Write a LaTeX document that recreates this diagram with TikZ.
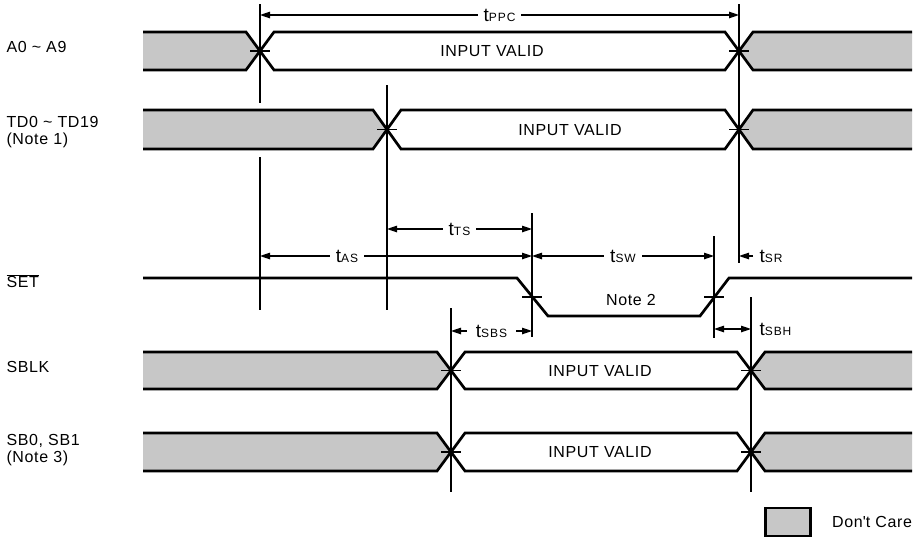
\documentclass[tikz,border=0pt]{standalone}
\usepackage{fontspec}
\setmainfont{Liberation Sans}[LetterSpace=4]
\usetikzlibrary{arrows.meta,positioning}

% time label: t with small capital subscript letters
\newcommand{\tsub}[1]{{\fontsize{19}{19}\selectfont t}{\fontsize{12}{12}\selectfont\addfontfeature{LetterSpace=8}#1}}

\tikzset{
  sig/.style={line width=2.7pt},
  guide/.style={line width=1.2pt},
  dontcare/.style={fill=black!22},
  dim/.style={line width=1.2pt, {Triangle[length=10pt,width=6.5pt]}-{Triangle[length=10pt,width=6.5pt]}},
  dimlbl/.style={fill=white, inner xsep=6pt, inner ysep=1pt},
  signame/.style={anchor=west, align=left},
}

\begin{document}
\begin{tikzpicture}[x=1pt, y=-1pt, font=\fontsize{16}{17}\selectfont]
        \useasboundingbox (0,0) rectangle (918,539);
        
        % Signal names
        \node[signame] (nameA) at (3,47) {A0 \textasciitilde{} A9};
        \node[signame] (nameTD) at (3,132) {TD0 \textasciitilde{} TD19\\(Note 1)};
        \node[signame] (nameSET) at (3,281) {$\overline{\mbox{SET}}$};
        \node[signame] (nameSBLK) at (3,367) {SBLK};
        \node[signame] (nameSB) at (3,450) {SB0, SB1\\(Note 3)};
        
        % Don't care areas
        \fill[dontcare] (143,32) -- (246,32) -- (260,51) -- (246,70) -- (143,70) -- cycle;
        \fill[dontcare] (912,32) -- (753,32) -- (739,51) -- (753,70) -- (912,70) -- cycle;
        \fill[dontcare] (143,110) -- (373,110) -- (387,129.5) -- (373,149) -- (143,149) -- cycle;
        \fill[dontcare] (912,110) -- (753,110) -- (739,129.5) -- (753,149) -- (912,149) -- cycle;
        \fill[dontcare] (143,352) -- (437,352) -- (451,370.5) -- (437,389) -- (143,389) -- cycle;
        \fill[dontcare] (912,352) -- (765,352) -- (751,370.5) -- (765,389) -- (912,389) -- cycle;
        \fill[dontcare] (143,433) -- (437,433) -- (451,452) -- (437,471) -- (143,471) -- cycle;
        \fill[dontcare] (912,433) -- (765,433) -- (751,452) -- (765,471) -- (912,471) -- cycle;
        
        % Reference lines
        \draw[guide] (260,4) -- (260,103) (260,157) -- (260,310);
        \draw[guide] (387,85) -- (387,310);
        \draw[guide] (739,4) -- (739,263);
        \draw[guide] (532,213) -- (532,337);
        \draw[guide] (714,236) -- (714,338);
        \draw[guide] (451,308) -- (451,492);
        \draw[guide] (751,297) -- (751,492);
        
        % Crossing ticks
        \draw[guide] (250,51) -- (270,51) (729,51) -- (749,51)
            (377,129.5) -- (397,129.5) (729,129.5) -- (749,129.5)
            (522,297) -- (542,297) (704,297) -- (724,297)
            (441,370.5) -- (461,370.5) (741,370.5) -- (761,370.5)
            (441,452) -- (461,452) (741,452) -- (761,452);
        
        % A0 ~ A9
        \draw[sig] (143,32) -- (246,32) -- (274,70) -- (725,70) -- (753,32) -- (912,32);
        \draw[sig] (143,70) -- (246,70) -- (274,32) -- (725,32) -- (753,70) -- (912,70);
        \node (validA) at (492,51) {INPUT VALID};
        
        % TD0 ~ TD19
        \draw[sig] (143,110) -- (373,110) -- (401,149) -- (725,149) -- (753,110) -- (912,110);
        \draw[sig] (143,149) -- (373,149) -- (401,110) -- (725,110) -- (753,149) -- (912,149);
        \node (validTD) at (570,130) {INPUT VALID};
        
        % SET
        \draw[sig] (143,278) -- (517,278) -- (548,316) -- (700,316) -- (729,278) -- (912,278);
        \node (note2) at (631,300) {Note 2};
        
        % SBLK
        \draw[sig] (143,352) -- (437,352) -- (465,389) -- (737,389) -- (765,352) -- (912,352);
        \draw[sig] (143,389) -- (437,389) -- (465,352) -- (737,352) -- (765,389) -- (912,389);
        \node (validSBLK) at (600,371) {INPUT VALID};
        
        % SB0, SB1
        \draw[sig] (143,433) -- (437,433) -- (465,471) -- (737,471) -- (765,433) -- (912,433);
        \draw[sig] (143,471) -- (437,471) -- (465,433) -- (737,433) -- (765,471) -- (912,471);
        \node (validSB) at (600,452) {INPUT VALID};
        
        % Timing arrows
        \coordinate (ppcL) at (260,15);
        \coordinate (ppcR) at (739,15);
        \draw[dim] (ppcL) -- node[dimlbl] (tppc) {\tsub{PPC}} (ppcR);
        
        \coordinate (tsL) at (387,229);
        \coordinate (tsR) at (532,229);
        \draw[dim] (tsL) -- node[dimlbl] (tts) {\tsub{TS}} (tsR);
        
        \coordinate (asL) at (260,256);
        \coordinate (asR) at (532,256);
        \draw[dim] (asL) -- node[dimlbl, pos=0.32] (tas) {\tsub{AS}} (asR);
        
        \coordinate (swR) at (714,256);
        \draw[dim] (asR) -- node[dimlbl] (tsw) {\tsub{SW}} (swR);
        
        \coordinate (srL) at (739,256);
        \coordinate (srR) at (753,256);
        \draw[guide, -{Triangle[length=10pt,width=6.5pt]}] (srR) -- (srL);
        \node[right=3pt of srR] (tsr) {\tsub{SR}};
        
        \coordinate (sbsL) at (451,331);
        \coordinate (sbsR) at (532,331);
        \draw[dim] (sbsL) -- node[dimlbl, inner xsep=9pt] (tsbs) {\tsub{SBS}} (sbsR);
        
        \coordinate (sbhL) at (714,329);
        \coordinate (sbhR) at (751,329);
        \draw[dim] (sbhL) -- (sbhR);
        \node[right=5pt of sbhR] (tsbh) {\tsub{SBH}};
        
        % Legend
        \node[draw, line width=2.2pt, dontcare, minimum width=45pt, minimum height=28pt, inner sep=0pt] (dcbox) at (788,522) {};
        \node[right=17pt of dcbox] (dclbl) {Don\textquotesingle t Care};
        
    \end{tikzpicture}
\end{document}
